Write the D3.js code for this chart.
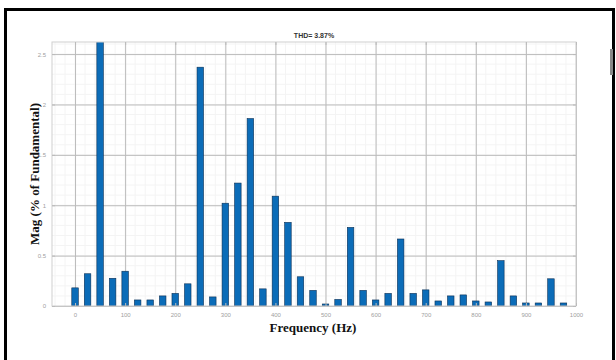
<!DOCTYPE html>
<html>
<head>
<meta charset="utf-8">
<script src="https://cdn.jsdelivr.net/npm/d3@7"></script>
<style>
  body { margin: 0; background: #fff; }
  svg { display: block; }
</style>
</head>
<body>
<div class="vis-thd"></div>
<script>
// harmonic spectrum, one bar every 25 Hz
const freqs = d3.range(0, 1000, 25);
const mags = [
  0.18, 0.32, 100, 0.275, 0.345, 0.06, 0.06, 0.10, 0.125, 0.22,
  2.37, 0.09, 1.02, 1.22, 1.86, 0.17, 1.09, 0.83, 0.29, 0.155,
  0.02, 0.065, 0.78, 0.155, 0.06, 0.125, 0.665, 0.125, 0.16, 0.05,
  0.10, 0.11, 0.05, 0.04, 0.45, 0.10, 0.03, 0.03, 0.27, 0.03
];
const xTicks = [0, 100, 200, 300, 400, 500, 600, 700, 800, 900, 1000];
const yTicks = [0, 0.5, 1, 1.5, 2, 2.5];
const titleText = "THD= 3.87%";

const W = 616, H = 360;
const margin = {top: 42, right: 40, bottom: 54, left: 52};
const width = W - margin.left - margin.right;
const height = H - margin.top - margin.bottom;

const svg = d3.select('.vis-thd').append('svg')
    .attr('width', W)
    .attr('height', H);

// outer frame
svg.append('rect')
    .attr('x', 5.5).attr('y', 9.5)
    .attr('width', 608).attr('height', 360)
    .attr('fill', 'none')
    .attr('stroke', '#000')
    .attr('stroke-width', 3);
// little grey tab on the right edge
svg.append('rect')
    .attr('x', 610).attr('y', 49).attr('width', 3).attr('height', 26)
    .attr('fill', '#888');

const g = svg.append('g')
    .attr('transform', 'translate(' + margin.left + ',' + margin.top + ')');

const x = d3.scaleLinear().domain([-46, 1000]).range([0, width]);
const y = d3.scaleLinear().domain([0, 2.62]).range([height, 0]);

// minor grid
g.append('g')
    .selectAll('line')
    .data(d3.range(-40, 1001, 20))
    .enter().append('line')
    .attr('x1', d => x(d)).attr('x2', d => x(d))
    .attr('y1', 0).attr('y2', height)
    .attr('stroke', '#f4f4f4');
g.append('g')
    .selectAll('line')
    .data(d3.range(0.1, 2.62, 0.1))
    .enter().append('line')
    .attr('x1', 0).attr('x2', width)
    .attr('y1', d => y(d)).attr('y2', d => y(d))
    .attr('stroke', '#f4f4f4');

// major grid
g.append('g')
    .call(d3.axisBottom(x).tickValues(xTicks).tickSize(height).tickFormat(''))
    .call(a => a.select('.domain').remove())
    .call(a => a.selectAll('line').attr('stroke', '#e8e8e8'));
g.append('g')
    .attr('transform', 'translate(' + width + ',0)')
    .call(d3.axisLeft(y).tickValues(yTicks).tickSize(width).tickFormat(''))
    .call(a => a.select('.domain').remove())
    .call(a => a.selectAll('line').attr('stroke', '#e8e8e8'));

// bars
g.append('clipPath').attr('id', 'clip')
    .append('rect').attr('width', width).attr('height', height);

const barW = x(13) - x(0);
g.append('g')
    .attr('clip-path', 'url(#clip)')
    .selectAll('.bar')
    .data(freqs.map((f, i) => ({f: f, m: mags[i]})))
    .enter().append('rect')
    .attr('class', 'bar')
    .attr('x', d => x(d.f) - barW / 2)
    .attr('width', barW)
    .attr('y', d => y(d.m))
    .attr('height', d => height - y(d.m))
    .attr('fill', '#0b6cb8')
    .attr('stroke', '#0a2f55')
    .attr('stroke-width', 0.6);

// box
g.append('rect')
    .attr('width', width).attr('height', height)
    .attr('fill', 'none')
    .attr('stroke', '#cfcfcf')
    .attr('stroke-width', 1);

// axes (MATLAB style: inward ticks, grey labels)
g.append('g')
    .attr('transform', 'translate(0,' + height + ')')
    .call(d3.axisBottom(x).tickValues(xTicks).tickSize(-3).tickPadding(7).tickFormat(d3.format('d')));
g.append('g')
    .call(d3.axisLeft(y).tickValues(yTicks).tickSize(-3).tickPadding(6).tickFormat(d => d));
g.append('g')
    .call(d3.axisTop(x).tickValues(xTicks).tickSize(-3).tickFormat(''));
g.append('g')
    .attr('transform', 'translate(' + width + ',0)')
    .call(d3.axisRight(y).tickValues(yTicks).tickSize(-3).tickFormat(''));

g.selectAll('.domain').remove();
g.selectAll('.tick line').attr('stroke', '#bbb');
g.selectAll('.tick text')
    .attr('fill', '#a0a0a0')
    .style('font-family', 'Liberation Sans, Arial, sans-serif')
    .style('font-size', '6px');

// title
svg.append('text')
    .attr('x', margin.left + width / 2)
    .attr('y', 38)
    .attr('text-anchor', 'middle')
    .style('font-family', 'Liberation Sans, Arial, sans-serif')
    .style('font-size', '7px')
    .style('font-weight', 'bold')
    .attr('fill', '#333')
    .text(titleText);

// x label
svg.append('text')
    .attr('x', 313)
    .attr('y', 332)
    .attr('text-anchor', 'middle')
    .style('font-family', 'Liberation Serif, Times New Roman, serif')
    .style('font-size', '13px')
    .style('font-weight', 'bold')
    .attr('fill', '#111')
    .text('Frequency (Hz)');

// y label
svg.append('text')
    .attr('transform', 'translate(39,174) rotate(-90)')
    .attr('text-anchor', 'middle')
    .style('font-family', 'Liberation Serif, Times New Roman, serif')
    .style('font-size', '13px')
    .style('font-weight', 'bold')
    .attr('fill', '#111')
    .text('Mag (% of Fundamental)');
</script>
</body>
</html>
